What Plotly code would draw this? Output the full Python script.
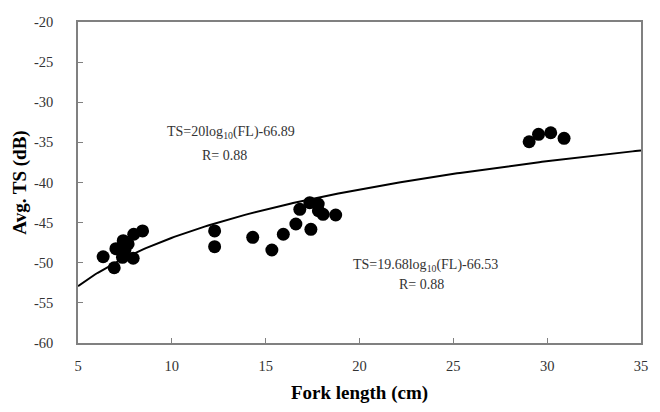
import numpy as np
import plotly.graph_objects as go

# Measured data: fork length (cm) vs average TS (dB)
fork_length = [6.34, 6.93, 7.02, 7.41, 7.37, 7.67, 7.94, 7.97, 8.44, 7.50,
               12.28, 12.28, 14.31, 15.33, 15.94, 16.61, 17.41, 16.82, 17.35,
               17.80, 17.81, 18.06, 18.73, 29.04, 29.54, 30.19, 30.90]
avg_ts = [-49.25, -50.62, -48.25, -47.25, -49.32, -47.66, -49.44, -46.45, -46.04, -48.41,
          -46.04, -48.0, -46.83, -48.41, -46.45, -45.17, -45.83, -43.34, -42.52,
          -42.68, -43.51, -43.96, -44.05, -34.92, -34.0, -33.8, -34.5]

# Fitted model stated on the chart: TS = 20 log10(FL) - 66.89
fit_slope = 20.0
fit_intercept = -66.89
fit_fl = np.linspace(5, 35, 200)
fit_ts = fit_slope * np.log10(fit_fl) + fit_intercept

x_ticks = [5, 10, 15, 20, 25, 30, 35]
x_labels = ["5", "10", "15", "20", "25", "30", "35"]
y_ticks = [-60, -55, -50, -45, -40, -35, -30, -25, -20]
y_labels = ["-60", "-55", "-50", "-45", "-40", "-35", "-30", "-25", "-20"]

serif = "Liberation Serif, Times New Roman, serif"

fig = go.Figure()
fig.add_trace(go.Scatter(x=fit_fl, y=fit_ts, mode="lines",
                         line=dict(color="black", width=2), showlegend=False,
                         hoverinfo="skip"))
fig.add_trace(go.Scatter(x=fork_length, y=avg_ts, mode="markers",
                         marker=dict(color="black", size=13), showlegend=False))

ann_font = dict(family=serif, size=14, color="#333333")
annotations = [
    dict(x=13.13, y=-33.83, text="TS=20log<sub>10</sub>(FL)-66.89"),
    dict(x=12.8, y=-36.6, text="R= 0.88"),
    dict(x=23.53, y=-50.4, text="TS=19.68log<sub>10</sub>(FL)-66.53"),
    dict(x=23.32, y=-52.65, text="R= 0.88"),
]
for a in annotations:
    fig.add_annotation(x=a["x"], y=a["y"], text=a["text"], showarrow=False,
                       font=ann_font, xanchor="center", yanchor="middle")

axis_common = dict(showgrid=False, zeroline=False, showline=True, mirror=True,
                   linecolor="#808080", linewidth=1.5, ticks="inside",
                   ticklen=5, tickcolor="#808080", tickwidth=1,
                   tickfont=dict(family=serif, size=14.5, color="#333333"))

fig.update_xaxes(range=[5, 35], tickvals=x_ticks, ticktext=x_labels,
                 ticklabelstandoff=9,
                 title=dict(text="<b>Fork length (cm)</b>",
                            font=dict(family=serif, size=19, color="black"),
                            standoff=13),
                 **axis_common)
fig.update_yaxes(range=[-60, -20], tickvals=y_ticks, ticktext=y_labels,
                 ticklabelstandoff=20,
                 title=dict(text="<b>Avg. TS (dB)</b>",
                            font=dict(family=serif, size=19, color="black"),
                            standoff=2),
                 **axis_common)

fig.update_layout(width=660, height=412,
                  margin=dict(l=78, r=17, t=22, b=69),
                  paper_bgcolor="white", plot_bgcolor="white")

fig.write_html("out.html")
